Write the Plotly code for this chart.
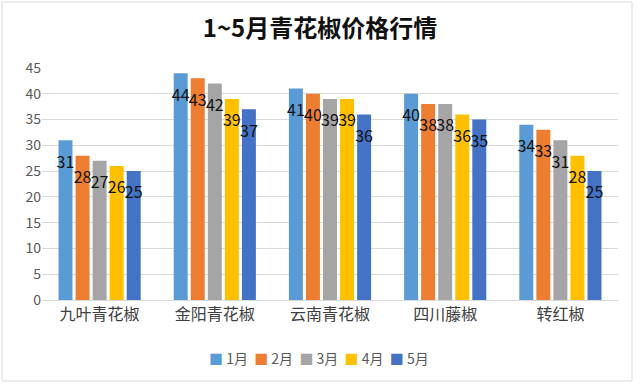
import plotly.graph_objects as go

categories = ["九叶青花椒", "金阳青花椒", "云南青花椒", "四川藤椒", "转红椒"]
months = ["1月", "2月", "3月", "4月", "5月"]
jan = [31, 44, 41, 40, 34]
feb = [28, 43, 40, 38, 33]
mar = [27, 42, 39, 38, 31]
apr = [26, 39, 39, 36, 28]
may = [25, 37, 36, 35, 25]
series = [jan, feb, mar, apr, may]
colors = ["#5B9BD5", "#ED7D31", "#A5A5A5", "#FFC000", "#4472C4"]

FONT = "Noto Sans CJK SC, Noto Sans, sans-serif"

fig = go.Figure()
for name, vals, col in zip(months, series, colors):
    fig.add_trace(go.Bar(
        x=categories, y=vals, name=name, marker_color=col,
        marker_line_width=0, offsetgroup=name, showlegend=False,
    ))
for name, vals in zip(months, series):
    fig.add_trace(go.Scatter(
        x=categories, y=vals, mode="markers+text", offsetgroup=name,
        text=[str(v) for v in vals], textposition="bottom center",
        marker=dict(size=23, opacity=0), showlegend=False,
        textfont=dict(family=FONT, size=16, color="#111111"),
        cliponaxis=False, hoverinfo="skip",
    ))

legend_text = "&nbsp;&nbsp;".join(
    f"<span style='color:{c}'>■</span> {m}" for m, c in zip(months, colors)
)

fig.update_layout(
    width=640, height=384,
    margin=dict(l=42, r=22, t=68, b=84),
    paper_bgcolor="white", plot_bgcolor="white",
    barmode="group", bargap=0.26, bargroupgap=0.18,
    scattermode="group", scattergap=0.26,
    font=dict(family=FONT, color="#595959"),
    title=dict(text="<b>1~5月青花椒价格行情</b>", x=0.5, xref="container",
               xanchor="center", y=1 - 28.5 / 384, yref="container", yanchor="middle",
               font=dict(family=FONT, size=24, color="#111111")),
    yaxis=dict(range=[0, 45], dtick=5, showgrid=True, gridcolor="#D9D9D9",
               gridwidth=1, zeroline=False, showline=False,
               tickfont=dict(family=FONT, size=14, color="#595959"), ticks=""),
    xaxis=dict(showline=True, linecolor="#D9D9D9", linewidth=1, ticks="",
               tickfont=dict(family=FONT, size=16, color="#404040")),
    showlegend=False,
    annotations=[dict(text=legend_text, xref="paper", yref="paper",
                      x=(319 - 42) / 576, y=(300 - 358) / 232,
                      xanchor="center", yanchor="middle", showarrow=False,
                      font=dict(family=FONT, size=14, color="#595959"))],
    shapes=[dict(type="rect", xref="paper", yref="paper",
                 x0=(2 - 42) / 576, x1=(632 - 42) / 576,
                 y0=(300 - 381) / 232, y1=(300 - 2) / 232,
                 line=dict(color="#D9D9D9", width=1), layer="below")],
)

fig.write_html("out.html", config={"displayModeBar": False},
               post_script="document.body.style.margin='0px';")
